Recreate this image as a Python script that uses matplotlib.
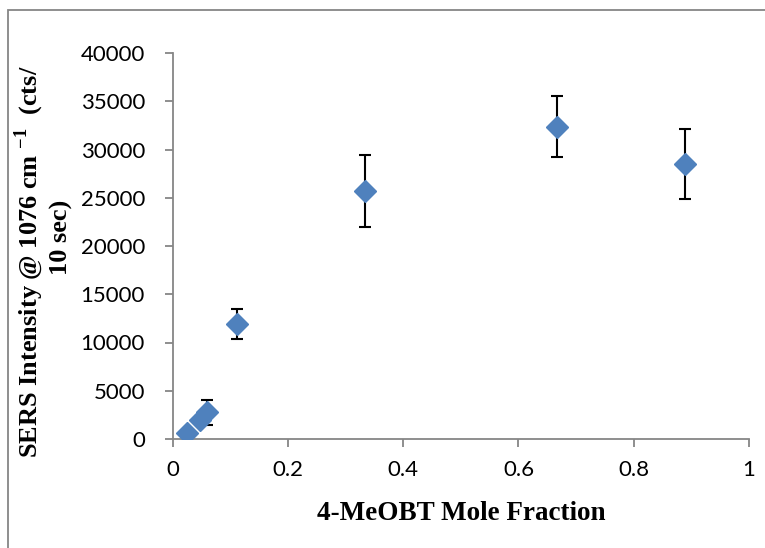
import matplotlib
matplotlib.use("Agg")
import matplotlib.pyplot as plt
from matplotlib.patches import Rectangle

plt.rcParams['mathtext.fontset'] = 'custom'
plt.rcParams['mathtext.bf'] = 'Liberation Serif:bold'
plt.rcParams['mathtext.rm'] = 'Liberation Serif:bold'

# data
mole_fraction = [0.025, 0.048, 0.059, 0.111, 0.333, 0.667, 0.889]
intensity = [650, 2000, 2750, 11900, 25700, 32350, 28480]
intensity_err = [300, 400, 1300, 1550, 3680, 3170, 3640]

x_ticks = [0, 0.2, 0.4, 0.6, 0.8, 1]
x_tick_labels = ["0", "0.2", "0.4", "0.6", "0.8", "1"]
y_ticks = [0, 5000, 10000, 15000, 20000, 25000, 30000, 35000, 40000]

axis_grey = "#868686"
blue = "#4F81BD"

fig = plt.figure(figsize=(7.65, 5.48), dpi=100)
ax = fig.add_axes([172.7/765, 1 - 439/548, (749 - 172.7)/765, (439 - 53)/548])

ax.errorbar(mole_fraction, intensity, yerr=intensity_err, fmt='none',
            ecolor='black', elinewidth=1.5, capsize=4.3, capthick=1.5, zorder=2)
ax.plot(mole_fraction, intensity, linestyle='none', marker='D', markersize=11,
        color=blue, markeredgecolor=blue, zorder=3)

ax.set_xlim(0, 1)
ax.set_ylim(0, 40000)
ax.set_xticks(x_ticks)
ax.set_xticklabels(x_tick_labels)
ax.set_yticks(y_ticks)

for side in ["top", "right"]:
    ax.spines[side].set_visible(False)
for side in ["left", "bottom"]:
    ax.spines[side].set_color(axis_grey)
    ax.spines[side].set_linewidth(1.3)

ax.tick_params(axis='both', direction='out', length=6, width=1.3, color=axis_grey,
               labelsize=16, labelcolor='black')
ax.tick_params(axis='y', pad=14)
ax.tick_params(axis='x', pad=9)
for lbl in ax.get_xticklabels() + ax.get_yticklabels():
    lbl.set_fontfamily('Lato')

ax.set_xlabel("4-MeOBT Mole Fraction", fontsize=19.5, fontweight='bold',
              fontfamily='Liberation Serif', labelpad=15)

# y label is wrapped in two lines, each centred on its own (as in Excel)
ylab_kw = dict(rotation=90, ha='center', va='center', fontsize=19,
               fontweight='bold', fontfamily='Liberation Serif')
fig.text(29/765, 1 - 262/548,
         "SERS Intensity @ 1076 cm $^{\\mathbf{-1}}$  (cts/", **ylab_kw)
fig.text(61/765, 1 - 237/548, "10 sec)", **ylab_kw)

# outer chart border (Excel-style frame)
fig.patches.append(Rectangle((8/765, -0.1), 1.2, 1.1 - 10/548,
                             transform=fig.transFigure, fill=False,
                             edgecolor=axis_grey, linewidth=1.3))

fig.savefig("out.png", dpi=100)
